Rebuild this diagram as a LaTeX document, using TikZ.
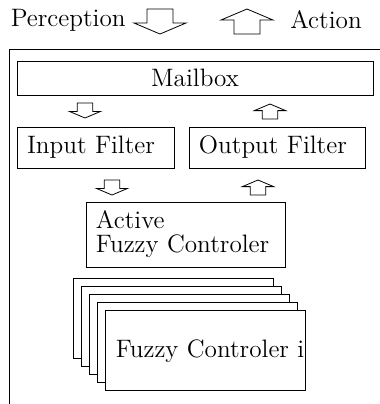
\documentclass[tikz,border=0pt]{standalone}
\usepackage{amsmath}
\usepackage{tikz}

\begin{document}
\begin{tikzpicture}[x=0.5pt,y=-0.5pt,
	every node/.style={font=\fontsize{12.6}{12}\selectfont},
	box/.style={draw,rectangle,fill=white,inner xsep=5pt,inner ysep=0pt,align=left},
	lbl/.style={inner sep=0pt},
	downarr/.pic={\draw (-13,0)--(13,0)--(13,14)--(26,14)--(0,25)--(-26,14)--(-13,14)--cycle;},
	uparr/.pic={\draw (0,0)--(26,11)--(13,11)--(13,25)--(-13,25)--(-13,11)--(-26,11)--cycle;}]
\useasboundingbox (0,0) rectangle (380,404);
\def\step{8.2}

%outside
\node[lbl,anchor=east] (perception) at (126,20) {Perception};
\node[lbl,anchor=west] (action) at (290,20) {Action};
\pic at (160,9) {downarr};
\pic at (247,9) {uparr};

%frame
\draw (9,404)--(9,49.5)--(380,49.5);

%boxes
\node[box,align=center,text width=168pt,minimum height=17pt] (mailbox) at (195,78) {Mailbox};
\node[box,text width=68.5pt,minimum height=20.5pt] (infilter) at (95.5,147.5) {Input Filter};
\node[box,text width=78pt,minimum height=20.5pt] (outfilter) at (277,147.5) {Output Filter};
\node[box,text width=89.5pt,minimum height=32.5pt] (active) at (185.5,234.5) {Active\\Fuzzy Controler};

%small arrows
\pic[scale=0.6] at (85,103) {downarr};
\pic[scale=0.6] at (270,104) {uparr};
\pic[scale=0.6] at (112,180) {downarr};
\pic[scale=0.6] at (258,180) {uparr};

%controlers
\foreach \i in {1,...,4}
	\node[box,minimum width=100pt,minimum height=40pt] (fc\i) at ({173+\step*(\i-1)},{318+\step*(\i-1)}) {};
\node[box,text width=90pt,minimum height=40pt] (fc5) at ({173+4*\step},{318+4*\step}) {\makebox[90pt][l]{Fuzzy Controler i}};
\end{tikzpicture}
\end{document}
